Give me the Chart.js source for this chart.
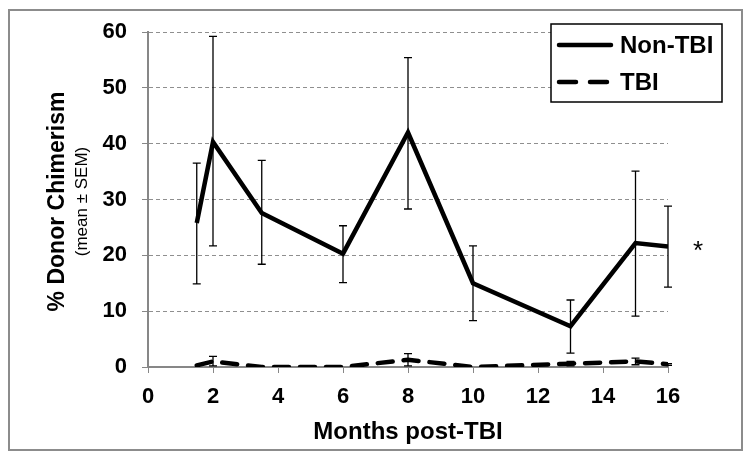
<!DOCTYPE html>
<html>
<head>
<meta charset="utf-8">
<script src="https://cdn.jsdelivr.net/npm/chart.js@4"></script>
<style>
  body { margin: 0; background: #fff; }
  canvas { display: block; }
</style>
</head>
<body>
<canvas id="chimerismChart" width="750" height="461"></canvas>
<script>
// months post-TBI where samples were taken
const months = [1.5, 2, 3.5, 6, 8, 10, 13, 15, 16];

// Non-TBI group: mean and mean +/- SEM
const nonTbi = [25.8, 40.3, 27.6, 20.3, 42.0, 15.0, 7.3, 22.2, 21.6];
const nonTbiHigh = [36.5, 59.2, 37.0, 25.3, 55.4, 21.7, 12.0, 35.1, 28.8];
const nonTbiLow = [14.9, 21.7, 18.4, 15.1, 28.3, 8.3, 2.5, 9.1, 14.3];

// TBI group
const tbi = [0.3, 1.0, 0.0, 0.0, 1.3, 0.0, 0.6, 1.0, 0.5];
const tbiHigh = [0.3, 1.9, 0.0, 0.0, 2.4, 0.0, 1.0, 1.6, 0.6];
const tbiLow = [0.3, 0.2, 0.0, 0.0, 0.2, 0.0, 0.2, 0.4, 0.3];

const xTicks = [0, 2, 4, 6, 8, 10, 12, 14, 16];
const yTicks = [0, 10, 20, 30, 40, 50, 60];

const FONT = 'Liberation Sans, Arial, sans-serif';
const AXIS_GREY = '#878787';

const toPoints = (xs, ys) => xs.map((x, i) => ({ x: x, y: ys[i] }));

// frame around the whole figure + white background
const framePlugin = {
  id: 'frame',
  beforeDraw(chart) {
    const ctx = chart.ctx;
    ctx.save();
    ctx.fillStyle = '#fff';
    ctx.fillRect(0, 0, chart.width, chart.height);
    ctx.strokeStyle = '#8c8c8c';
    ctx.lineWidth = 2;
    ctx.strokeRect(9, 10, 733, 440);
    ctx.restore();
  }
};

// error bars, one per point, drawn through the chart scales
const errorBarPlugin = {
  id: 'errorBars',
  afterDatasetsDraw(chart) {
    const ctx = chart.ctx;
    const xs = chart.scales.x;
    const ys = chart.scales.y;
    const sets = [[nonTbiHigh, nonTbiLow], [tbiHigh, tbiLow]];
    ctx.save();
    ctx.strokeStyle = '#000';
    ctx.lineWidth = 1.3;
    sets.forEach(([hi, lo]) => {
      months.forEach((m, i) => {
        if (hi[i] === lo[i]) return;
        const px = xs.getPixelForValue(m);
        const top = ys.getPixelForValue(hi[i]);
        const bot = ys.getPixelForValue(lo[i]);
        ctx.beginPath();
        ctx.moveTo(px, top); ctx.lineTo(px, bot);
        ctx.moveTo(px - 4, top); ctx.lineTo(px + 4, top);
        ctx.moveTo(px - 4, bot); ctx.lineTo(px + 4, bot);
        ctx.stroke();
      });
    });
    ctx.restore();
  }
};

// y title (two lines, two fonts), boxed legend and the asterisk
const annotationsPlugin = {
  id: 'annotations',
  afterDraw(chart) {
    const ctx = chart.ctx;
    const area = chart.chartArea;
    const ys = chart.scales.y;
    const midY = (area.top + area.bottom) / 2;

    ctx.save();
    ctx.fillStyle = '#000';
    ctx.textAlign = 'center';
    ctx.textBaseline = 'middle';
    ctx.translate(58, midY + 2);
    ctx.rotate(-Math.PI / 2);
    ctx.font = 'bold 23px ' + FONT;
    ctx.fillText('% Donor Chimerism', 0, 0);
    ctx.font = '17px ' + FONT;
    ctx.fillText('(mean \u00B1 SEM)', 0, 24);
    ctx.restore();

    // legend box
    const lx = 551, ly = 24, lw = 171, lh = 78;
    ctx.save();
    ctx.fillStyle = '#fff';
    ctx.fillRect(lx, ly, lw, lh);
    ctx.strokeStyle = '#000';
    ctx.lineWidth = 1.5;
    ctx.strokeRect(lx, ly, lw, lh);
    const legendDash = [[], [17, 14]];
    chart.data.datasets.forEach((ds, i) => {
      const y = ly + 21 + i * 37;
      ctx.beginPath();
      ctx.strokeStyle = ds.borderColor;
      ctx.lineWidth = ds.borderWidth;
      ctx.lineCap = 'round';
      ctx.setLineDash(legendDash[i]);
      ctx.moveTo(lx + 8, y);
      ctx.lineTo(lx + 60, y);
      ctx.stroke();
      ctx.setLineDash([]);
      ctx.fillStyle = '#000';
      ctx.font = 'bold 24px ' + FONT;
      ctx.textAlign = 'left';
      ctx.textBaseline = 'middle';
      ctx.fillText(ds.label, lx + 69, y + 1);
    });
    ctx.restore();

    // significance marker next to the last Non-TBI point
    ctx.save();
    ctx.fillStyle = '#000';
    ctx.font = '26px ' + FONT;
    ctx.textAlign = 'center';
    ctx.textBaseline = 'middle';
    ctx.fillText('*', area.right + 30, ys.getPixelForValue(nonTbi[nonTbi.length - 1]) + 5);
    ctx.restore();
  }
};

const ctx = document.getElementById('chimerismChart').getContext('2d');
new Chart(ctx, {
  type: 'scatter',
  data: {
    datasets: [
      {
        label: 'Non-TBI',
        data: toPoints(months, nonTbi),
        showLine: true,
        borderColor: '#000',
        backgroundColor: '#000',
        borderWidth: 4.5,
        pointRadius: 0,
        tension: 0
      },
      {
        label: 'TBI',
        data: toPoints(months, tbi),
        showLine: true,
        borderColor: '#000',
        backgroundColor: '#000',
        borderWidth: 4.5,
        borderDash: [15, 11],
        borderCapStyle: 'round',
        pointRadius: 0,
        tension: 0
      }
    ]
  },
  options: {
    responsive: false,
    animation: false,
    layout: { padding: { left: 0, top: 32, right: 82, bottom: 14 } },
    plugins: {
      legend: { display: false },
      tooltip: { enabled: false }
    },
    scales: {
      x: {
        type: 'linear',
        min: 0,
        max: 16,
        afterBuildTicks: (scale) => { scale.ticks = xTicks.map(v => ({ value: v })); },
        afterFit: (scale) => { scale.height = 80; },
        ticks: {
          color: '#000',
          font: { family: FONT, size: 22, weight: 'bold' },
          padding: 11
        },
        grid: {
          drawOnChartArea: false,
          drawTicks: true,
          tickLength: 6,
          tickColor: AXIS_GREY,
          color: AXIS_GREY
        },
        border: { display: true, color: AXIS_GREY, width: 2 },
        title: {
          display: true,
          text: 'Months post-TBI',
          color: '#000',
          font: { family: FONT, size: 24, weight: 'bold' },
          padding: 0
        }
      },
      y: {
        min: 0,
        max: 60,
        afterBuildTicks: (scale) => { scale.ticks = yTicks.map(v => ({ value: v })); },
        afterFit: (scale) => { scale.width = 148; },
        ticks: {
          color: '#000',
          font: { family: FONT, size: 22, weight: 'bold' },
          padding: 15
        },
        grid: {
          color: (c) => (c.tick && c.tick.value === 0) ? 'rgba(0,0,0,0)' : '#8f8f8f',
          lineWidth: 1,
          tickLength: 6,
          tickColor: AXIS_GREY,
          tickBorderDash: []
        },
        border: { display: true, color: AXIS_GREY, width: 2, dash: [4, 3] }
      }
    }
  },
  plugins: [framePlugin, errorBarPlugin, annotationsPlugin]
});
</script>
</body>
</html>
